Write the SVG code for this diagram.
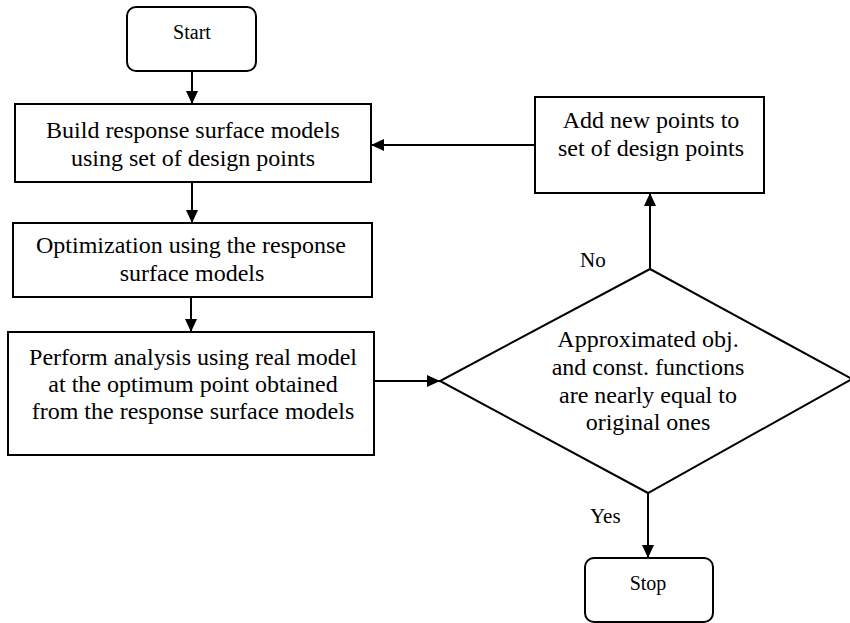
<svg xmlns="http://www.w3.org/2000/svg" width="850" height="623" viewBox="0 0 850 623">
<defs>
<style>
.box{fill:#fff;stroke:#000;stroke-width:2}
.t{font-family:"Liberation Serif","Times New Roman",serif;font-size:24px;fill:#000;text-anchor:middle}
.s{font-family:"Liberation Serif","Times New Roman",serif;font-size:20px;fill:#000;text-anchor:middle}
.l{font-family:"Liberation Serif","Times New Roman",serif;font-size:21px;fill:#000;text-anchor:start}
.c{fill:none;stroke:#000;stroke-width:2;marker-end:url(#ah)}
</style>
<marker id="ah" viewBox="0 0 13 12" refX="13" refY="6" markerWidth="13" markerHeight="12" markerUnits="userSpaceOnUse" orient="auto">
<path d="M0,0 L13,6 L0,12 z" fill="#000"/>
</marker>
</defs>
<rect width="850" height="623" fill="#fff"/>
<g id="connectors">
<line class="c" x1="192" y1="71" x2="192" y2="104"/>
<line class="c" x1="192" y1="182" x2="192" y2="223"/>
<line class="c" x1="191" y1="297" x2="191" y2="332"/>
<line class="c" x1="374" y1="381" x2="440" y2="381"/>
<line class="c" x1="650" y1="269" x2="650" y2="193"/>
<line class="c" x1="535" y1="145" x2="371" y2="145"/>
<line class="c" x1="648" y1="493" x2="648" y2="558"/>
<text class="l" x="580" y="267">No</text>
<text class="l" x="590" y="523">Yes</text>
</g>
<g id="start">
<rect class="box" x="127" y="7" width="129" height="64" rx="9"/>
<text class="s" x="192" y="39">Start</text>
</g>
<g id="build">
<rect class="box" x="15" y="104" width="356" height="78"/>
<text class="t" x="193" y="138">Build response surface models</text>
<text class="t" x="193" y="166">using set of design points</text>
</g>
<g id="optimize">
<rect class="box" x="13" y="223" width="359" height="74"/>
<text class="t" x="191" y="253">Optimization using the response</text>
<text class="t" x="192" y="281">surface models</text>
</g>
<g id="perform">
<rect class="box" x="8" y="332" width="366" height="123"/>
<text class="t" x="193" y="365">Perform analysis using real model</text>
<text class="t" x="193" y="392">at the optimum point obtained</text>
<text class="t" x="193" y="419">from the response surface models</text>
</g>
<g id="addpoints">
<rect class="box" x="535" y="97" width="229" height="96"/>
<text class="t" x="651" y="128">Add new points to</text>
<text class="t" x="651" y="156">set of design points</text>
</g>
<g id="decision">
<polygon class="box" points="650,269 852,379 648,493 440,381"/>
<text class="t" x="648" y="347">Approximated obj.</text>
<text class="t" x="648" y="375">and const. functions</text>
<text class="t" x="648" y="403">are nearly equal to</text>
<text class="t" x="648" y="430">original ones</text>
</g>
<g id="stop">
<rect class="box" x="585" y="558" width="128" height="64" rx="9"/>
<text class="s" x="648" y="590">Stop</text>
</g>
</svg>
